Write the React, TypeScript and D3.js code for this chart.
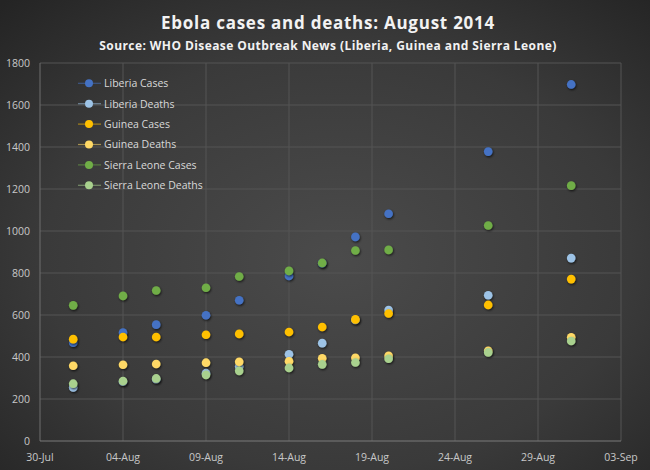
import React from "react";
import * as d3 from "d3";

const dates = ["2014-08-01","2014-08-04","2014-08-06","2014-08-09","2014-08-11","2014-08-14","2014-08-16","2014-08-18","2014-08-20","2014-08-26","2014-08-31"];
const liberiaCases = [468, 516, 554, 599, 670, 786, 846, 972, 1082, 1378, 1698];
const liberiaDeaths = [255, 282, 294, 323, 355, 413, 466, 576, 624, 694, 871];
const guineaCases = [485, 495, 495, 506, 510, 519, 543, 579, 607, 648, 771];
const guineaDeaths = [358, 363, 367, 373, 377, 380, 394, 396, 406, 430, 494];
const sierraCases = [646, 691, 717, 730, 783, 810, 848, 907, 910, 1026, 1216];
const sierraDeaths = [273, 286, 298, 315, 334, 348, 365, 374, 392, 422, 476];
const seriesNames = ["Liberia Cases","Liberia Deaths","Guinea Cases","Guinea Deaths","Sierra Leone Cases","Sierra Leone Deaths"];
const seriesColors = ["#4472C4","#9DC3E6","#FFC000","#FFD966","#70AD47","#A9D18E"];
const xTickLabels = ["30-Jul","04-Aug","09-Aug","14-Aug","19-Aug","24-Aug","29-Aug","03-Sep"];
const xTickDates = ["2014-07-30","2014-08-04","2014-08-09","2014-08-14","2014-08-19","2014-08-24","2014-08-29","2014-09-03"];
const yTicks = [0,200,400,600,800,1000,1200,1400,1600,1800];
const title = "Ebola cases and deaths: August 2014";
const subtitle = "Source: WHO Disease Outbreak News (Liberia, Guinea and Sierra Leone)";

const allSeries = [liberiaCases, liberiaDeaths, guineaCases, guineaDeaths, sierraCases, sierraDeaths];

export default function App() {
  const W = 650, H = 470;
  const x = d3.scaleUtc()
    .domain([new Date(xTickDates[0]), new Date(xTickDates[xTickDates.length - 1])])
    .range([40, 621]);
  const y = d3.scaleLinear().domain([0, 1800]).range([441, 63]);
  const font = "'Open Sans', 'Liberation Sans', sans-serif";
  const r = 4.3;

  return (
    <svg width={W} height={H} style={{ position: "absolute", left: 0, top: 0, display: "block" }}>
      <defs>
        <radialGradient id="bg" cx="52%" cy="55%" r="75%">
          <stop offset="0%" stopColor="#4b4b4b" />
          <stop offset="60%" stopColor="#3a3a3a" />
          <stop offset="100%" stopColor="#242424" />
        </radialGradient>
        <filter id="sh" x="-50%" y="-50%" width="200%" height="200%">
          <feDropShadow dx="0.8" dy="1.2" stdDeviation="0.9" floodColor="#000" floodOpacity="0.7" />
        </filter>
      </defs>
      <rect x={0} y={0} width={W} height={H} fill="url(#bg)" />
      <text x={328} y={29} textAnchor="middle" fill="#f2f2f2" fontFamily={font} fontWeight="bold" fontSize={17} letterSpacing={0.75}>{title}</text>
      <text x={328} y={50} textAnchor="middle" fill="#f2f2f2" fontFamily={font} fontWeight="bold" fontSize={12} letterSpacing={0.42}>{subtitle}</text>
      {yTicks.map((t) => (
        <g key={"y" + t}>
          {t > 0 && <line x1={40} x2={621} y1={y(t)} y2={y(t)} stroke="#555555" strokeWidth={1} />}
          <text x={30} y={y(t) + 4} textAnchor="end" fill="#c8c8c8" fontFamily={font} fontSize={10.5}>{t}</text>
        </g>
      ))}
      {xTickDates.map((d, i) => {
        const xx = x(new Date(d));
        return (
          <g key={"x" + d}>
            {i > 0 && <line x1={xx} x2={xx} y1={63} y2={441} stroke="#555555" strokeWidth={1} />}
            <text x={xx} y={461} textAnchor="middle" fill="#c8c8c8" fontFamily={font} fontSize={10.5}>{xTickLabels[i]}</text>
          </g>
        );
      })}
      <line x1={40} x2={40} y1={63} y2={441} stroke="#6e6e6e" strokeWidth={1} />
      <line x1={40} x2={621} y1={441} y2={441} stroke="#7a7a7a" strokeWidth={1} />
      {allSeries.map((vals, si) => (
        <g key={"s" + si} filter="url(#sh)">
          {vals.map((v, i) => (
            <circle key={i} cx={x(new Date(dates[i]))} cy={y(v)} r={r} fill={seriesColors[si]} />
          ))}
        </g>
      ))}
      {seriesNames.map((n, i) => {
        const ly = 83.3 + i * 20.4;
        return (
          <g key={"l" + i}>
            <line x1={78} x2={101} y1={ly} y2={ly} stroke={seriesColors[i]} strokeOpacity={0.55} strokeWidth={1.2} />
            <circle cx={89} cy={ly} r={4} fill={seriesColors[i]} />
            <text x={104} y={ly + 3.8} fill="#d9d9d9" fontFamily={font} fontSize={10.5}>{n}</text>
          </g>
        );
      })}
    </svg>
  );
}
